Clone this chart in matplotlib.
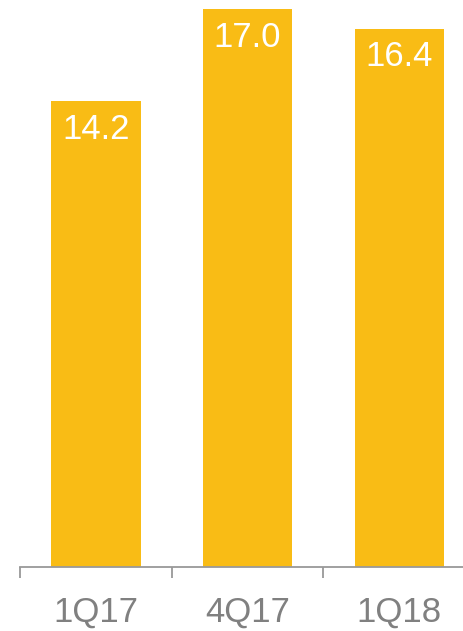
import matplotlib
matplotlib.use("Agg")
import matplotlib.pyplot as plt

categories = ["1Q17", "4Q17", "1Q18"]
values = [14.2, 17.0, 16.4]
bar_color = "#F9BC15"

fig = plt.figure(figsize=(4.63, 6.31), dpi=100)
ax = fig.add_axes([20/463, 64/631, 443/463, 567/631])
x = list(range(len(categories)))
ax.bar(x, values, width=0.59, color=bar_color)
ax.set_xlim(-0.5, 2.42)
ax.set_ylim(0, 17.28)

for xi, v in zip(x, values):
    ax.annotate(f"{v:.1f}", (xi, v), xytext=(0, -28), textcoords="offset pixels",
                ha="center", va="center", color="white", fontsize=25, fontfamily="Liberation Sans")

for s in ["top", "right", "left"]:
    ax.spines[s].set_visible(False)
ax.spines["bottom"].set_color("#999999")
ax.spines["bottom"].set_linewidth(1.3)
ax.set_yticks([])
ax.set_xticks(x)
ax.set_xticklabels(categories, fontsize=25, color="#808080", fontfamily="Liberation Sans")
ax.tick_params(axis="x", which="major", length=0, pad=21)
ax.set_xticks([-0.5, 0.5, 1.5], minor=True)
ax.tick_params(axis="x", which="minor", length=8, width=1.3, color="#999999", direction="out")

fig.savefig("out.png", dpi=100)
